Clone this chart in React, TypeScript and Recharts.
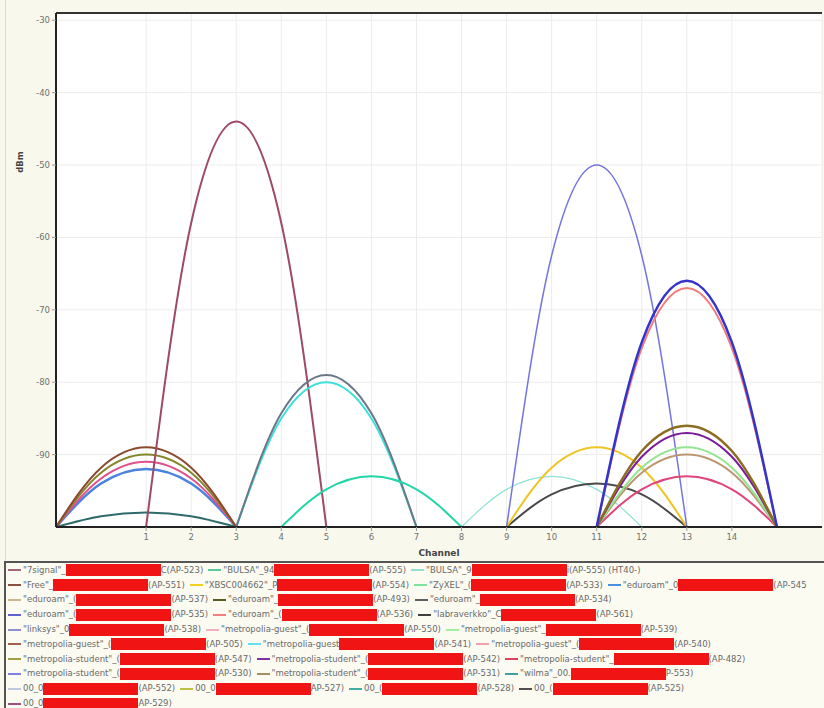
import { LineChart, Line, XAxis, YAxis, CartesianGrid, ReferenceLine } from 'recharts';

// axis ticks
const channelTicks = [1, 2, 3, 4, 5, 6, 7, 8, 9, 10, 11, 12, 13, 14];
const dbmTicks = [-90, -80, -70, -60, -50, -40, -30];

// every arc is sampled at these channel offsets from its centre channel
const spanOffsets = [-2, -1, 0, 1, 2];

// centre channel of each access point arc
const arcChannels = [1, 1, 1, 1, 1, 3, 5, 5, 6, 10, 11, 11, 11, 13, 13, 13, 13, 13, 13, 13];

// signal level (dBm) at offsets -2, -1, 0, +1, +2
const arcLevels = [
    [-100, -94, -92, -94, -100],
    [-100, -98.5, -98, -98.5, -100],
    [-100, -93.3, -91, -93.3, -100],
    [-100, -92.5, -90, -92.5, -100],
    [-100, -91.8, -89, -91.8, -100],
    [-100, -58, -44, -58, -100],
    [-100, -85, -80, -85, -100],
    [-100, -84.3, -79, -84.3, -100],
    [-100, -94.8, -93, -94.8, -100],
    [-100, -94.8, -93, -94.8, -100],
    [-100, -95.5, -94, -95.5, -100],
    [-100, -91.8, -89, -91.8, -100],
    [-100, -62.5, -50, -62.5, -100],
    [-100, -94.8, -93, -94.8, -100],
    [-100, -92.5, -90, -92.5, -100],
    [-100, -91.8, -89, -91.8, -100],
    [-100, -90.3, -87, -90.3, -100],
    [-100, -89.5, -86, -89.5, -100],
    [-100, -75.3, -67, -75.3, -100],
    [-100, -74.5, -66, -74.5, -100],
];

const arcColors = [
    '#4a82e0', '#2f6b6b', '#e0508c', '#84862a', '#8b4a2e',
    '#9c4a66', '#3fe0dc', '#6b7888', '#22d6a6', '#8ee2d4',
    '#4a4a4a', '#f0c424', '#7474e2', '#e0447c', '#bc9670',
    '#92e692', '#7a1c98', '#8c6c1e', '#f07c7c', '#3434cc',
];
const arcWidths = [2.5, 2, 2, 2, 2, 2, 2, 2, 2, 1.2, 2, 2, 1.5, 2, 2, 2, 2, 2.5, 2, 2.5];

// legend: network name, redacted part follows, then AP tag
const legendNames = [
    '"7signal"_', '"BULSA"_94', '"BULSA"_9',
    '"Free"_', '"XBSC004662"_P', '"ZyXEL"_(', '"eduroam"_0',
    '"eduroam"_(', '"eduroam"_', '"eduroam"_',
    '"eduroam"_(', '"eduroam"_(', '"labraverkko"_C',
    '"linksys"_0', '"metropolia-guest"_(', '"metropolia-guest"_',
    '"metropolia-guest"_(', '"metropolia-guest', '"metropolia-guest"_(',
    '"metropolia-student"_(', '"metropolia-student"_(', '"metropolia-student"_',
    '"metropolia-student"_(', '"metropolia-student"_(', '"wilma"_00.',
    '00_0', '00_0', '00_(', '00_(',
    '00_0',
];
const legendTags = [
    'C(AP-523)', '(AP-555)', 'i(AP-555) (HT40-)',
    '(AP-551)', '(AP-554)', '(AP-533)', '(AP-545',
    '(AP-537)', '(AP-493)', '(AP-534)',
    '(AP-535)', '(AP-536)', '(AP-561)',
    '(AP-538)', '(AP-550)', '(AP-539)',
    '(AP-505)', '(AP-541)', '(AP-540)',
    '(AP-547)', '(AP-542)', '(AP-482)',
    '(AP-530)', '(AP-531)', 'P-553)',
    '(AP-552)', 'AP-527)', '(AP-528)', '(AP-525)',
    'AP-529)',
];
const legendColors = [
    '#a06a7a', '#5ac8a0', '#90e0d0',
    '#8a5040', '#f0d020', '#80e0a0', '#4a90e0',
    '#c8b890', '#5a5a20', '#606060',
    '#6060d0', '#f08080', '#404040',
    '#9090d0', '#f0b0c0', '#a0f0a0',
    '#a06050', '#60e0f0', '#f0a0b0',
    '#a0a040', '#8030a0', '#e04060',
    '#8080e0', '#a09060', '#40a0a0',
    '#c0c8e0', '#c0c040', '#40b0a0', '#505050',
    '#a05080',
];
const legendRowSizes = [3, 4, 3, 3, 3, 3, 3, 3, 4, 1];

const arcs = arcChannels.map((c, i) => ({
    key: `ap-${i}`,
    color: arcColors[i],
    width: arcWidths[i],
    data: spanOffsets.map((o, j) => ({ ch: c + o, dbm: arcLevels[i][j] })),
}));

const legendRows: number[][] = [];
let cursor = 0;
legendRowSizes.forEach((n) => {
    legendRows.push(Array.from({ length: n }, (_, k) => cursor + k));
    cursor += n;
});

const tickStyle = { fill: '#707070', fontSize: 8.5, fontFamily: 'DejaVu Sans' };

export default function App() {
    return (
        <div
            style={{
                position: 'absolute',
                left: 0,
                top: 0,
                width: 824,
                height: 708,
                overflow: 'hidden',
                background: '#f8f9ec',
                fontFamily: 'DejaVu Sans',
            }}
        >
            <div style={{ position: 'absolute', left: 5, top: 0, width: 1, height: 561, background: '#dcdcd4' }} />
            <div style={{ position: 'absolute', left: 0, top: 0 }}>
                <LineChart width={824} height={560} margin={{ top: 13, right: 2, bottom: 0, left: 0 }}>
                    <CartesianGrid stroke="#ececec" fill="#ffffff" />
                    <XAxis
                        type="number"
                        dataKey="ch"
                        domain={[-1, 16]}
                        ticks={channelTicks}
                        allowDataOverflow
                        height={33}
                        tick={tickStyle}
                        tickSize={4}
                        tickMargin={3}
                        tickLine={{ stroke: '#999' }}
                        axisLine={{ stroke: '#222', strokeWidth: 2 }}
                        label={{
                            value: 'Channel',
                            position: 'insideBottom',
                            offset: 4,
                            style: { fill: '#444', fontSize: 9, fontWeight: 'bold', fontFamily: 'DejaVu Sans' },
                        }}
                    />
                    <YAxis
                        type="number"
                        domain={[-100, -29]}
                        ticks={dbmTicks}
                        allowDataOverflow
                        width={56}
                        tick={tickStyle}
                        tickSize={4}
                        tickMargin={2}
                        tickLine={{ stroke: '#999' }}
                        axisLine={{ stroke: '#222', strokeWidth: 2 }}
                        label={{
                            content: () => (
                                <text
                                    x={20}
                                    y={162}
                                    transform="rotate(-90 20 162)"
                                    textAnchor="middle"
                                    dominantBaseline="central"
                                    fill="#444"
                                    fontSize={8.5}
                                    fontWeight="bold"
                                    fontFamily="DejaVu Sans"
                                >
                                    dBm
                                </text>
                            ),
                        }}
                    />
                    <ReferenceLine y={-29} stroke="#333" strokeWidth={2} />
                    {arcs.map((a) => (
                        <Line
                            key={a.key}
                            data={a.data}
                            dataKey="dbm"
                            type="monotone"
                            stroke={a.color}
                            strokeWidth={a.width}
                            dot={false}
                            activeDot={false}
                            isAnimationActive={false}
                        />
                    ))}
                </LineChart>
            </div>
            <div
                style={{
                    position: 'absolute',
                    left: 4,
                    top: 561,
                    width: 830,
                    height: 150,
                    borderTop: '2px solid #555',
                    borderLeft: '2px solid #555',
                    background: '#fbfbf2',
                    paddingLeft: 2,
                    fontSize: 8.5,
                    lineHeight: '11px',
                    color: '#6a6a6a',
                }}
            >
                {legendRows.map((row, r) => (
                    <div key={r} style={{ display: 'flex', alignItems: 'center', height: 14.8, whiteSpace: 'nowrap' }}>
                        {row.map((i) => (
                            <div key={i} style={{ display: 'flex', alignItems: 'center', marginRight: 5 }}>
                                <span
                                    style={{
                                        display: 'inline-block',
                                        width: 13,
                                        height: 2,
                                        background: legendColors[i],
                                        marginRight: 2,
                                    }}
                                />
                                <span>{legendNames[i]}</span>
                                <span
                                    style={{
                                        display: 'inline-block',
                                        width: 95,
                                        height: 12,
                                        background: '#f01414',
                                    }}
                                />
                                <span>{legendTags[i]}</span>
                            </div>
                        ))}
                    </div>
                ))}
            </div>
        </div>
    );
}
